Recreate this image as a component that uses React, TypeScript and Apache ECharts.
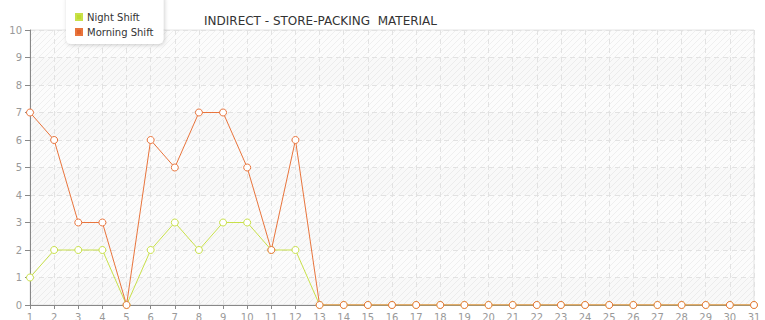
import React, { useEffect, useRef } from "react";
import * as echarts from "echarts";

const days = Array.from({ length: 31 }, (_, i) => String(i + 1));
const nightShift = [1, 2, 2, 2, 0, 2, 3, 2, 3, 3, 2, 2, 0, 0, 0, 0, 0, 0, 0, 0, 0, 0, 0, 0, 0, 0, 0, 0, 0, 0, 0];
const morningShift = [7, 6, 3, 3, 0, 6, 5, 7, 7, 5, 2, 6, 0, 0, 0, 0, 0, 0, 0, 0, 0, 0, 0, 0, 0, 0, 0, 0, 0, 0, 0];
const titleText = "INDIRECT - STORE-PACKING  MATERIAL";

const hatchSvg =
  "<svg xmlns='http://www.w3.org/2000/svg' width='6' height='6'>" +
  "<rect width='6' height='6' fill='#fcfcfc'/>" +
  "<path d='M-1,1 l2,-2 M0,6 l6,-6 M5,7 l2,-2' stroke='#efefef' stroke-width='1'/></svg>";
const hatchUrl = "data:image/svg+xml;charset=utf-8," + encodeURIComponent(hatchSvg);

export default function App() {
  const ref = useRef<HTMLDivElement>(null);
  useEffect(() => {
    if (!ref.current) return;
    const chart = echarts.init(ref.current, undefined, { renderer: "svg" });
    const font = "'DejaVu Sans', Verdana, sans-serif";
    chart.setOption({
      animation: false,
      backgroundColor: "#ffffff",
      title: {
        text: titleText,
        left: 199,
        top: 10,
        textStyle: { fontFamily: font, fontSize: 12, fontWeight: "normal", color: "#333" },
      },
      legend: {
        orient: "vertical",
        left: 66,
        top: -6,
        padding: [18, 10, 7, 9],
        itemGap: 5,
        itemWidth: 6,
        itemHeight: 6,
        icon: "rect",
        backgroundColor: "#ffffff",
        borderRadius: 5,
        shadowColor: "rgba(0,0,0,0.2)",
        shadowBlur: 4,
        shadowOffsetX: 1,
        shadowOffsetY: 1,
        textStyle: { fontFamily: font, fontSize: 10, color: "#333" },
        data: [
          { name: "Night Shift", itemStyle: { color: "#bfdc2e" } },
          { name: "Morning Shift", itemStyle: { color: "#e0622a" } },
        ],
      },
      grid: {
        left: 30,
        right: 11,
        top: 30,
        bottom: 15,
        outerBoundsMode: "none",
        containLabel: false,
        show: true,
        backgroundColor: { image: hatchUrl, repeat: "repeat" },
        borderColor: "#e4e4e4",
        borderWidth: 1,
      },
      xAxis: {
        type: "category",
        data: days,
        boundaryGap: false,
        axisLine: { lineStyle: { color: "#888", width: 1 } },
        axisTick: { show: true, length: 4, lineStyle: { color: "#888" } },
        axisLabel: { color: "#999", fontFamily: font, fontSize: 10, margin: 7, interval: 0 },
        splitLine: { show: true, lineStyle: { color: "#e2e2e2", type: [5, 4] } },
      },
      yAxis: {
        type: "value",
        min: 0,
        max: 10,
        interval: 1,
        axisLine: { show: true, lineStyle: { color: "#888", width: 1 } },
        axisTick: { show: true, length: 5, lineStyle: { color: "#888" } },
        axisLabel: { color: "#999", fontFamily: font, fontSize: 10, margin: 8 },
        splitLine: { show: true, lineStyle: { color: "#e2e2e2", type: [5, 4] } },
        splitArea: { show: true, areaStyle: { color: ["rgba(0,0,0,0.01)", "rgba(0,0,0,0)"] } },
      },
      series: [
        {
          name: "Night Shift",
          type: "line",
          data: nightShift,
          symbol: "circle",
          symbolSize: 7,
          color: "#c8e04a",
          lineStyle: { width: 1, color: "#c8e04a" },
          itemStyle: { color: "#ffffff", borderColor: "#c8e04a", borderWidth: 1 },
        },
        {
          name: "Morning Shift",
          type: "line",
          data: morningShift,
          symbol: "circle",
          symbolSize: 7,
          color: "#e8743c",
          lineStyle: { width: 1, color: "#e8743c" },
          itemStyle: { color: "#ffffff", borderColor: "#e8743c", borderWidth: 1 },
        },
      ],
    });
    return () => chart.dispose();
  }, []);
  return (
    <div
      ref={ref}
      style={{ position: "fixed", left: 0, top: 0, width: 765, height: 320 }}
    />
  );
}
